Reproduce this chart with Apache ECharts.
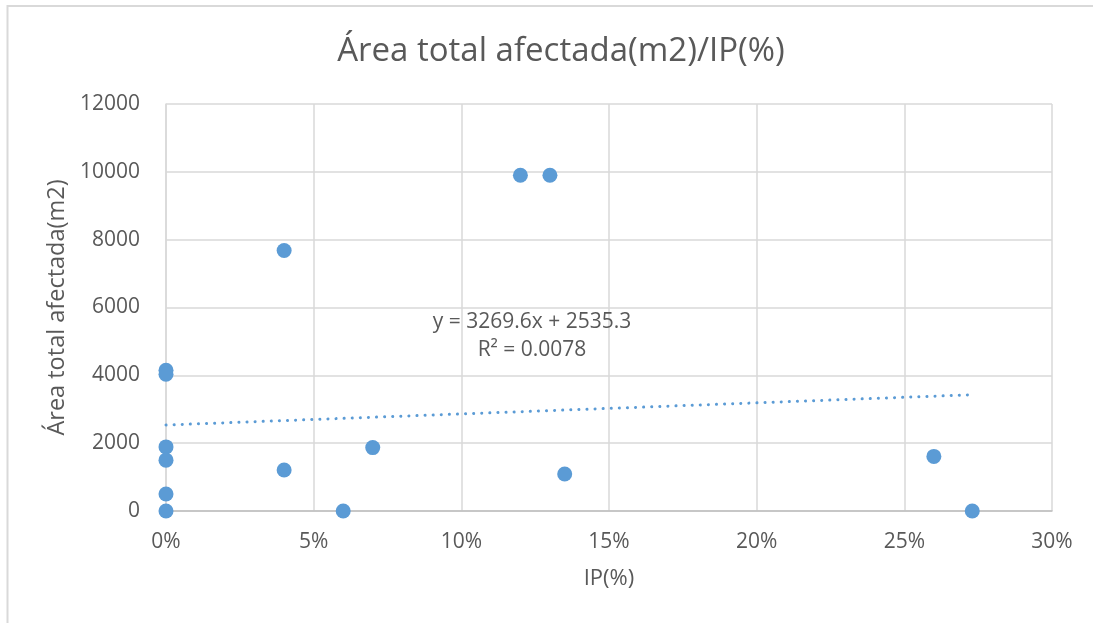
<!DOCTYPE html>
<html>
<head>
<meta charset="utf-8">
<script src="https://cdn.jsdelivr.net/npm/echarts@6/dist/echarts.min.js"></script>
<style>
  html, body { margin: 0; padding: 0; background: #fff; }
  #chart { width: 1093px; height: 623px; }
</style>
</head>
<body>
<div id="chart"></div>
<script>
// IP (fraction) and affected area (m2)
const ipValues = [0, 0, 0, 0, 0, 0, 0.04, 0.04, 0.06, 0.07, 0.12, 0.13, 0.135, 0.26, 0.273];
const areaValues = [4150, 4030, 1890, 1500, 500, 0, 7680, 1210, 0, 1870, 9900, 9900, 1090, 1610, 0];

// linear trendline as shown in the chart
const trendSlope = 3269.6;
const trendIntercept = 2535.3;
const trendLabels = ['y = 3269.6x + 2535.3', 'R² = 0.0078'];

const chart = echarts.init(document.getElementById('chart'));

const points = ipValues.map((x, i) => [x, areaValues[i]]);
const xMin = Math.min(...ipValues);
const xMax = Math.max(...ipValues);
const trendData = [xMin, xMax].map((x) => [x, trendSlope * x + trendIntercept]);

const textColor = '#595959';
const font = '"Open Sans", sans-serif';

chart.setOption({
  animation: false,
  title: {
    text: 'Área total afectada(m2)/IP(%)',
    left: 556,
    textAlign: 'center',
    top: 30,
    textStyle: { color: textColor, fontSize: 33, fontWeight: 'normal', fontFamily: font },
  },
  grid: { left: 166, right: 41, top: 104, bottom: 112 },
  xAxis: {
    type: 'value',
    min: 0,
    max: 0.3,
    interval: 0.05,
    name: 'IP(%)',
    nameLocation: 'middle',
    nameGap: 57,
    nameTextStyle: { color: textColor, fontSize: 22, fontFamily: font },
    axisLine: { lineStyle: { color: '#bfbfbf', width: 1.5 } },
    axisTick: { show: false },
    axisLabel: {
      color: textColor,
      fontSize: 21,
      fontFamily: font,
      margin: 21,
      formatter: (v) => Math.round(v * 100) + '%',
    },
    splitLine: { show: true, lineStyle: { color: '#d9d9d9', width: 1.5 } },
  },
  yAxis: {
    type: 'value',
    min: 0,
    max: 12000,
    interval: 2000,
    name: 'Área total afectada(m2)',
    nameLocation: 'middle',
    nameGap: 86,
    nameTextStyle: { color: textColor, fontSize: 23.5, fontFamily: font },
    axisLine: { show: true, lineStyle: { color: '#d9d9d9', width: 1.5 } },
    axisTick: { show: false },
    axisLabel: {
      color: textColor,
      fontSize: 21,
      fontFamily: font,
      margin: 26,
      formatter: (v) => String(v),
    },
    splitLine: { lineStyle: { color: '#d9d9d9', width: 1.5 } },
  },
  graphic: [
    {
      type: 'rect',
      shape: { x: 7.5, y: 6, width: 1200, height: 700 },
      style: { fill: 'none', stroke: '#d9d9d9', lineWidth: 2 },
      silent: true,
    },
    {
      type: 'text',
      x: 532,
      y: 336,
      style: {
        text: trendLabels.join('\n'),
        align: 'center',
        verticalAlign: 'middle',
        fill: textColor,
        fontSize: 21,
        fontFamily: font,
        lineHeight: 28,
      },
      z: 10,
    },
  ],
  series: [
    {
      type: 'line',
      data: trendData,
      symbol: 'none',
      lineStyle: { color: '#5b9bd5', width: 3, type: [0.1, 8], cap: 'round' },
      z: 1,
    },
    {
      type: 'scatter',
      data: points,
      symbol: 'circle',
      symbolSize: 15,
      itemStyle: { color: '#5b9bd5', opacity: 1 },
      z: 2,
    },
  ],
});
</script>
</body>
</html>
